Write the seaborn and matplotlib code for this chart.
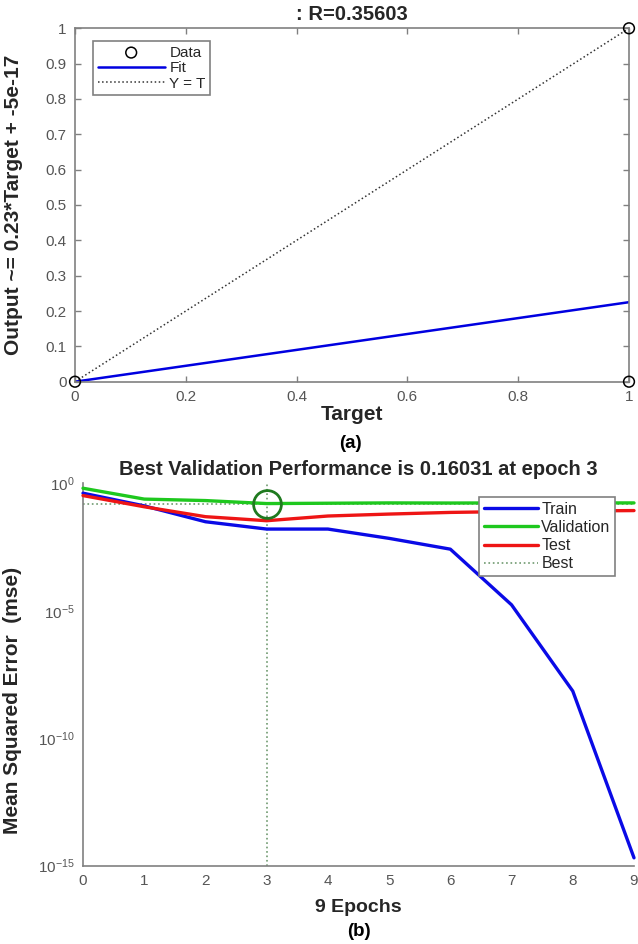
import numpy as np
import pandas as pd
import matplotlib
matplotlib.use("Agg")
import matplotlib.pyplot as plt
import seaborn as sns

# (a) regression plot values
data_target = [0, 1, 1]
data_output = [0, 0, 1]
fit_target = [0, 1]
fit_output = [0, 0.225]
ident = [0, 1]
r_value = 0.35603

# (b) training performance values
epochs = [0, 1, 2, 3, 4, 5, 6, 7, 8, 9]
train_mse = [0.41, 0.13, 0.031, 0.016, 0.016, 0.0069, 0.0026, 1.7e-5, 7e-9, 2e-15]
val_mse = [0.64, 0.24, 0.21, 0.16031, 0.165, 0.17, 0.168, 0.17, 0.17, 0.17]
test_mse = [0.33, 0.12, 0.049, 0.034, 0.052, 0.062, 0.072, 0.078, 0.082, 0.085]
best_epoch = 3
best_perf = 0.16031

sns.set_theme(style="white")
plt.rcParams['font.family'] = ['Liberation Sans', 'DejaVu Sans']
plt.rcParams['axes.linewidth'] = 1.2
plt.rcParams['axes.unicode_minus'] = False

W, H = 638, 944
GRAY = '#808080'
TICKC = '#555555'
LABC = '#262626'

fig = plt.figure(figsize=(W / 100, H / 100), dpi=100)


def box(l, t, r, b):
    return [l / W, 1 - b / H, (r - l) / W, (b - t) / H]


def style_axes(ax):
    for s in ax.spines.values():
        s.set_color(GRAY)
    ax.tick_params(direction='in', length=4, width=1, colors=GRAY,
                   labelcolor=TICKC, labelsize=11, pad=6)


# ---------- (a) ----------
ax1 = fig.add_axes(box(75, 28.3, 629, 381.7))
sns.scatterplot(x=data_target, y=data_output, ax=ax1, marker='o', s=60,
                facecolor='none', edgecolor='black', linewidth=1.1,
                label='Data', clip_on=False, zorder=5)
sns.lineplot(x=fit_target, y=fit_output, ax=ax1, color='#0000e0',
             linewidth=1.8, label='Fit')
sns.lineplot(x=ident, y=ident, ax=ax1, color='#333333', linestyle=':',
             linewidth=1.1, label='Y = T')
ax1.set_xlim(0, 1)
ax1.set_ylim(0, 1)
ax1.set_xticks(np.arange(0, 1.01, 0.2))
ax1.set_xticklabels(['0', '0.2', '0.4', '0.6', '0.8', '1'])
ax1.set_yticks(np.arange(0, 1.01, 0.1))
ax1.set_yticklabels(['0'] + [f'{v:.1f}' for v in np.arange(0.1, 0.95, 0.1)] + ['1'])
ax1.tick_params(top=True, right=True, bottom=True, left=True)
style_axes(ax1)
ax1.set_xlabel('')
ax1.set_ylabel('Output ~= 0.23*Target + -5e-17', fontsize=15,
               fontweight='bold', color=LABC)
ax1.yaxis.set_label_coords(-0.094, 0.5)
leg1 = ax1.legend(loc='upper left', bbox_to_anchor=(93 / W, 1 - 41 / H),
                  bbox_transform=fig.transFigure, borderaxespad=0,
                  fontsize=11, handlelength=4.4, handletextpad=0.3,
                  labelspacing=0.1, borderpad=0.3, fancybox=False,
                  framealpha=1, edgecolor=GRAY)
leg1.get_frame().set_linewidth(1.2)

fig.text(352 / W, 1 - 15 / H, f': R={r_value}', ha='center', va='center',
         fontsize=14.5, fontweight='bold', color=LABC)
fig.text(352 / W, 1 - 415 / H, 'Target', ha='center', va='center',
         fontsize=15, fontweight='bold', color=LABC)
fig.text(350 / W, 1 - 443 / H, '(a)', ha='center', va='center',
         fontsize=13.5, fontweight='bold', color='black')

# ---------- (b) ----------
ax2 = fig.add_axes(box(83, 483.3, 634, 865.5))
perf = pd.DataFrame({'epoch': epochs * 3,
                     'mse': train_mse + val_mse + test_mse,
                     'set': ['Train'] * 10 + ['Validation'] * 10 + ['Test'] * 10})
sns.lineplot(data=perf, x='epoch', y='mse', hue='set', ax=ax2,
             palette={'Train': '#0a0ae6', 'Validation': '#1ec81e', 'Test': '#ee1515'},
             linewidth=2.4, clip_on=False, zorder=3)
ax2.set_yscale('log')
ax2.axhline(best_perf, color='#6f9a6f', linestyle=':', linewidth=1.2,
            label='Best', zorder=2)
ax2.axvline(best_epoch, color='#6f9a6f', linestyle=':', linewidth=1.2, zorder=2)
ax2.plot(best_epoch, best_perf, marker='o', markersize=20, mfc='none',
         mec='#1f7a1f', mew=2, zorder=4)
ax2.set_xlim(0, 9)
ax2.set_ylim(1e-15, 1e0)
ax2.set_xticks(epochs)
ax2.set_yticks([1e0, 1e-5, 1e-10, 1e-15])
ax2.yaxis.set_minor_locator(matplotlib.ticker.NullLocator())
ax2.spines['top'].set_visible(False)
ax2.spines['right'].set_visible(False)
style_axes(ax2)
ax2.set_xlabel('')
ax2.set_ylabel('Mean Squared Error  (mse)', fontsize=15, fontweight='bold',
               color=LABC)
ax2.yaxis.set_label_coords(-0.111, 0.433)

h, l = ax2.get_legend_handles_labels()
order = [l.index(n) for n in ['Train', 'Validation', 'Test', 'Best']]
leg2 = ax2.legend([h[i] for i in order], [l[i] for i in order],
                  loc='upper left', bbox_to_anchor=(479 / W, 1 - 497 / H),
                  bbox_transform=fig.transFigure, borderaxespad=0,
                  fontsize=11.5, handlelength=3.4, handletextpad=0.2,
                  labelspacing=0.2, borderpad=0.3, fancybox=False,
                  framealpha=1, edgecolor=GRAY)
leg2.get_frame().set_linewidth(1.2)

fig.text(358.5 / W, 1 - 469 / H, f'Best Validation Performance is {best_perf} at epoch {best_epoch}',
         ha='center', va='center', fontsize=14.5, fontweight='bold', color=LABC)
fig.text(358.5 / W, 1 - 907 / H, '9 Epochs', ha='center', va='center',
         fontsize=14, fontweight='bold', color=LABC)
fig.text(358.5 / W, 1 - 932 / H, '(b)', ha='center', va='center',
         fontsize=13.5, fontweight='bold', color='black')

fig.savefig('out.png', dpi=100)
